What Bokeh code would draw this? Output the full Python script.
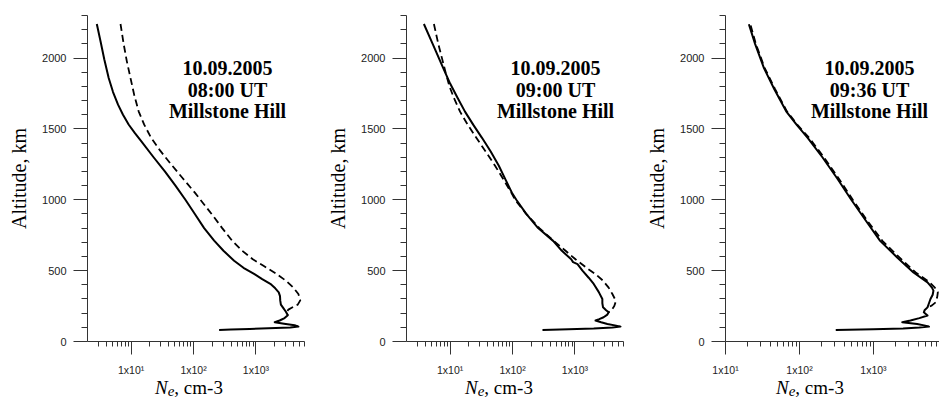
from bokeh.plotting import figure
from bokeh.layouts import row, column
from bokeh.models import Range1d, FixedTicker, CustomJSTickFormatter, Label, Div
from bokeh.embed import file_html
from bokeh.resources import INLINE

# ---------------- data ----------------
DATE = "10.09.2005"
STATION = "Millstone Hill"
TIMES = ["08:00 UT", "09:00 UT", "09:36 UT"]

# Panel 1 (08:00 UT)
p1_solid_alt = [2240, 2117, 1990, 1859, 1760, 1671, 1600, 1531, 1470, 1413, 1300, 1200, 1100, 1000,
                900, 800, 712, 640, 570, 520, 477, 440, 407, 375, 347, 320, 290, 260, 235, 210, 185,
                165, 148, 136, 126, 115, 105, 98, 93, 89, 85, 82]
p1_solid_ne = [2.82, 3.24, 3.72, 4.37, 5.13, 6.17, 7.41, 9.12, 11.5, 14.5, 22.9, 34.7, 51.3, 74.1,
               105, 148, 214, 302, 447, 631, 933, 1260, 1700, 2040, 2320, 2430, 2450, 2510, 2750,
               3020, 3240, 2880, 2400, 2000, 2820, 4170, 4790, 3550, 1580, 794, 398, 257]
p1_dash_alt = [2240, 2100, 1980, 1859, 1740, 1624, 1530, 1437, 1350, 1250, 1150, 1050, 1000, 900, 800,
               710, 640, 580, 534, 480, 429, 380, 335, 290, 260, 240, 225, 205, 185]
p1_dash_ne = [6.76, 7.59, 8.51, 9.77, 11.2, 13.2, 16.2, 20.9, 28.8, 43.7, 67.6, 105, 129, 195, 288,
              417, 603, 891, 1320, 2090, 3020, 3980, 4790, 5130, 4680, 3800, 3310, 3090, 3240]

# Panel 2 (09:00 UT)
p2_solid_alt = [2240, 2100, 1929, 1820, 1718, 1620, 1530, 1437, 1340, 1240, 1140, 1050, 1000, 900, 800,
                710, 640, 580, 560, 546, 500, 450, 406, 350, 300, 270, 241, 220, 206, 190, 171, 158,
                148, 136, 124, 112, 105, 98, 91, 86, 82]
p2_solid_ne = [3.80, 5.25, 7.76, 10.0, 13.2, 17.4, 23.4, 32.4, 44.7, 60.3, 77.6, 97.7, 115, 166, 257,
               447, 617, 871, 933, 1100, 1320, 1660, 2000, 2400, 2750, 2750, 2820, 3160, 3470, 3310,
               2880, 2450, 2140, 2630, 3310, 4570, 5370, 3980, 2000, 794, 302]
p2_dash_alt = [2240, 2100, 1980, 1894, 1800, 1718, 1620, 1530, 1437, 1340, 1240, 1140, 1050, 1000, 900,
               800, 710, 640, 580, 522, 475, 429, 380, 335, 300, 276, 250, 230, 215, 206]
p2_dash_ne = [5.50, 6.46, 7.59, 8.51, 9.77, 11.5, 14.5, 19.1, 26.3, 37.2, 52.5, 72.4, 95.5, 110, 166,
              269, 457, 708, 1020, 1510, 2140, 2820, 3470, 3980, 4370, 4470, 4270, 3980, 3630, 3470]

# Panel 3 (09:36 UT)
p3_solid_alt = [2238, 2100, 1929, 1780, 1624, 1530, 1437, 1300, 1150, 1000, 850, 710, 593, 487, 417,
                380, 359, 330, 300, 270, 241, 220, 206, 193, 183, 165, 148, 136, 124, 112, 105, 98,
                91, 86, 82]
p3_solid_ne = [20.7, 25.1, 33.1, 45.7, 66.1, 91.2, 129, 204, 324, 501, 794, 1230, 2090, 3470, 5370,
               6170, 6460, 6310, 5890, 5620, 5370, 4900, 4790, 5130, 5370, 4170, 3160, 2450, 3890,
               5010, 5620, 4170, 2510, 1000, 309]
p3_dash_alt = [2230, 2100, 1929, 1780, 1624, 1530, 1437, 1300, 1150, 1000, 850, 710, 593, 487, 417,
               380, 347, 310, 276, 255, 241]
p3_dash_ne = [21.9, 25.7, 33.9, 46.8, 67.6, 93.3, 135, 214, 339, 525, 832, 1320, 2240, 3720, 5750,
              6760, 7410, 7240, 6920, 6170, 5500]

# axes
Y_MAJOR = [0, 500, 1000, 1500, 2000]
Y_MINOR = [100, 200, 300, 400, 600, 700, 800, 900, 1100, 1200, 1300, 1400,
           1600, 1700, 1800, 1900, 2100, 2200, 2300]
X_MAJOR = [10, 100, 1000]
X_MINOR_12 = [3, 4, 5, 6, 7, 8, 9, 20, 30, 40, 50, 60, 70, 80, 90,
              200, 300, 400, 500, 600, 700, 800, 900, 2000, 3000, 4000, 5000, 6000]
X_MINOR_3 = [20, 30, 40, 50, 60, 70, 80, 90, 200, 300, 400, 500, 600, 700, 800, 900,
             2000, 3000, 4000, 5000, 6000, 7000]
X_RANGES = [(2, 6000), (2, 6000), (10, 7800)]
Y_RANGE = (0, 2300)

SERIF = "Liberation Serif"
SANS = "Liberation Sans"
AXIS_COLOR = "#333333"
MAIN_H = 378
TITLE_H = 23


def make_panel(width, bl, br, xr, xminor, solid, dash, time_label, ann_x, title_x):
    p = figure(width=width, height=MAIN_H, x_axis_type="log", title=None,
               x_range=Range1d(*xr), y_range=Range1d(*Y_RANGE),
               output_backend="svg", toolbar_location=None,
               min_border_left=bl, min_border_right=br, min_border_top=15, min_border_bottom=37)
    p.outline_line_color = None
    p.xgrid.visible = False
    p.ygrid.visible = False
    p.background_fill_color = "white"
    p.border_fill_color = "white"

    p.line(solid[1], solid[0], line_color="black", line_width=2.0, line_join="round")
    p.line(dash[1], dash[0], line_color="black", line_width=1.8, line_dash="7 4", line_join="round")

    # x axis
    xa = p.xaxis[0]
    xa.ticker = FixedTicker(ticks=X_MAJOR, minor_ticks=xminor)
    xa.formatter = CustomJSTickFormatter(code="""
        const k = Math.round(tick);
        if (k === 10) return "1x10\u00b9";
        if (k === 100) return "1x10\u00b2";
        if (k === 1000) return "1x10\u00b3";
        return "";
    """)
    xa.axis_line_color = AXIS_COLOR
    xa.major_tick_line_color = AXIS_COLOR
    xa.minor_tick_line_color = AXIS_COLOR
    xa.major_tick_out = 13
    xa.major_tick_in = 0
    xa.minor_tick_out = 5
    xa.minor_tick_in = 0
    xa.major_label_standoff = 9
    xa.major_label_text_font = SANS
    xa.major_label_text_font_size = "10.5px"
    xa.major_label_text_color = "#222222"

    # y axis
    ya = p.yaxis[0]
    ya.ticker = FixedTicker(ticks=Y_MAJOR, minor_ticks=Y_MINOR)
    ya.axis_line_color = AXIS_COLOR
    ya.major_tick_line_color = AXIS_COLOR
    ya.minor_tick_line_color = AXIS_COLOR
    ya.major_tick_out = 14
    ya.major_tick_in = 0
    ya.minor_tick_out = 6
    ya.minor_tick_in = 0
    ya.major_label_standoff = 7
    ya.major_label_text_font = SANS
    ya.major_label_text_font_size = "11px"
    ya.major_label_text_color = "#222222"
    ya.axis_label = "Altitude, km"
    ya.axis_label_text_font = SERIF
    ya.axis_label_text_font_style = "normal"
    ya.axis_label_text_font_size = "20px"
    ya.axis_label_text_color = "black"
    ya.axis_label_standoff = 9

    # annotation block
    for txt, yy in zip([DATE, time_label, STATION], [274, 252, 231]):
        p.add_layout(Label(x=ann_x, y=yy, x_units="screen", y_units="screen", text=txt,
                           text_font=SERIF, text_font_style="bold", text_font_size="20px",
                           text_align="center", text_baseline="middle", text_color="black"))

    # x axis title strip: N_e, cm-3
    html = ('<div style="position:absolute;left:%dpx;top:0px;white-space:nowrap;'
            "font-family:'Liberation Serif',serif;font-size:19px;line-height:19px;color:#000;\">"
            '<i>N</i><i style="font-size:15px;line-height:15px;position:relative;top:2px;">e</i>'
            ', cm-3</div>') % title_x
    t = Div(text=html, width=width, height=TITLE_H, margin=0)
    return column(p, t, spacing=0)


c1 = make_panel(320, 87, 16, X_RANGES[0], X_MINOR_12, (p1_solid_alt, p1_solid_ne),
                (p1_dash_alt, p1_dash_ne), TIMES[0], 140, 155)
c2 = make_panel(320, 86, 17, X_RANGES[1], X_MINOR_12, (p2_solid_alt, p2_solid_ne),
                (p2_dash_alt, p2_dash_ne), TIMES[1], 149, 145)
c3 = make_panel(299, 85, 0, X_RANGES[2], X_MINOR_3, (p3_solid_alt, p3_solid_ne),
                (p3_dash_alt, p3_dash_ne), TIMES[2], 144, 136)

layout = row(c1, c2, c3, spacing=0)
open("out.html", "w").write(file_html(layout, INLINE))
